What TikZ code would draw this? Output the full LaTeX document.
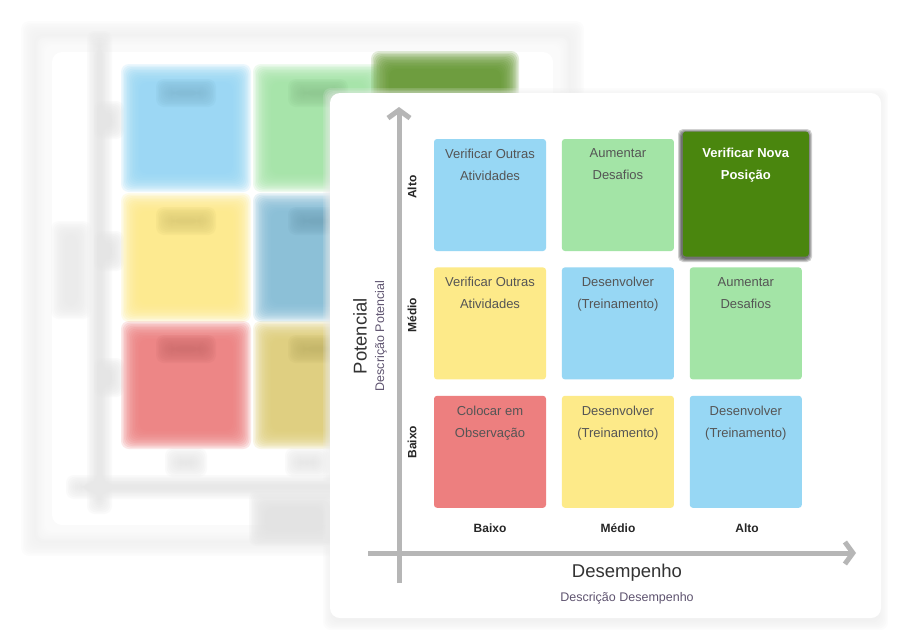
\documentclass[tikz,border=0pt]{standalone}
\usepackage{fontspec}
\setmainfont{Liberation Sans}
\usepackage{tikz}
\usetikzlibrary{positioning}
\usetikzlibrary{arrows.meta}

\definecolor{cellblue}{RGB}{151,215,244}
\definecolor{cellgreen}{RGB}{163,228,166}
\definecolor{celldark}{RGB}{74,134,14}
\definecolor{cellyellow}{RGB}{253,234,137}
\definecolor{cellred}{RGB}{237,127,127}
\definecolor{axisgray}{RGB}{182,182,182}
\definecolor{celltextgray}{RGB}{85,85,85}
\definecolor{desctext}{RGB}{95,84,112}

\tikzstyle{cell} = [minimum width=112pt, minimum height=112pt, inner sep=0pt, rounded corners=3pt]
\tikzstyle{celltext} = [align=center, inner sep=0pt, text=celltextgray, font=\fontsize{13}{22}\selectfont]
\tikzstyle{level} = [inner sep=0pt, text=black!85, font=\bfseries\fontsize{12}{14}\selectfont]
\tikzstyle{axis} = [line width=5pt, axisgray, -{Straight Barb[length=8pt,width=22pt]}]

% soft rectangle for the blurred copy behind the card
\newcommand{\fuzzyrect}[5]{%
  \foreach \r in {-9,-7.5,...,9}
    \fill[#5, opacity=0.18, rounded corners=8pt] (#1-\r,#2-\r) rectangle (#3+\r,#4+\r);
}

\begin{document}
\begin{tikzpicture}[x=1pt, y=-1pt]
  \useasboundingbox (0,0) rectangle (921,635);

  %Blurred copy
  \fuzzyrect{30}{30}{575}{547}{black!6}
  \fuzzyrect{45}{45}{560}{532}{white}
  \fill[white, rounded corners=10pt] (52,52) rectangle (553,525);
  \fuzzyrect{96}{40}{103}{505}{black!9}
  \fuzzyrect{75}{484}{560}{490}{black!9}
  \fuzzyrect{103}{110}{115}{130}{black!10}
  \fuzzyrect{103}{240}{115}{262}{black!10}
  \fuzzyrect{103}{367}{115}{388}{black!10}
  \fuzzyrect{60}{230}{82}{310}{black!8}
  \fuzzyrect{174}{457}{198}{468}{black!9}
  \fuzzyrect{294}{457}{320}{468}{black!9}
  \fuzzyrect{258}{500}{330}{537}{black!11}
  \fuzzyrect{130}{73}{242}{183}{cellblue}
  \fuzzyrect{262}{73}{374}{183}{cellgreen}
  \fuzzyrect{380}{60}{510}{190}{celldark!85!white}
  \fuzzyrect{130}{202}{242}{313}{cellyellow}
  \fuzzyrect{262}{202}{374}{313}{cellblue!88!black}
  \fuzzyrect{130}{330}{242}{440}{cellred}
  \fuzzyrect{262}{330}{374}{440}{cellyellow!88!black}
  \fuzzyrect{165}{88}{207}{98}{cellblue!88!black}
  \fuzzyrect{297}{88}{339}{98}{cellgreen!88!black}
  \fuzzyrect{165}{216}{207}{226}{cellyellow!88!black}
  \fuzzyrect{297}{216}{339}{226}{cellblue!78!black}
  \fuzzyrect{165}{344}{207}{354}{cellred!88!black}
  \fuzzyrect{297}{344}{339}{354}{cellyellow!78!black}

  %Card
  \fuzzyrect{332}{97}{879}{621}{black!7}
  \node[fill=white, rounded corners=10pt, minimum width=551pt, minimum height=525pt] (card) at (605.5,355.5) {};

  %Axes
  \coordinate (yBottom) at (399,583);
  \coordinate (yTop) at (399,107);
  \coordinate (xLeft) at (368,553);
  \coordinate (xRight) at (856,553);
  \draw[axis] (yBottom) -- (yTop);
  \draw[axis] (xLeft) -- (xRight);

  %Shadow of the highlighted cell
  \foreach \r in {1,2,3,4}
    \fill[black, opacity=0.18, rounded corners=5pt] (682-\r,133-\r) rectangle (808+\r,258+\r);

  %Cells
  \node[cell, fill=cellblue] (altoBaixo) at (490,195) {};
  \node[cell, fill=cellgreen, right=15.5pt of altoBaixo] (altoMedio) {};
  \node[cell, fill=cellyellow, below=16pt of altoBaixo] (medioBaixo) {};
  \node[cell, fill=cellblue, right=15.5pt of medioBaixo] (medioMedio) {};
  \node[cell, fill=cellgreen, right=15.5pt of medioMedio] (medioAlto) {};
  \node[cell, fill=celldark, minimum width=126pt, minimum height=125pt, above=10.5pt of medioAlto] (altoAlto) {};
  \node[cell, fill=cellred, below=16pt of medioBaixo] (baixoBaixo) {};
  \node[cell, fill=cellyellow, right=15.5pt of baixoBaixo] (baixoMedio) {};
  \node[cell, fill=cellblue, right=15.5pt of baixoMedio] (baixoAlto) {};

  \node[celltext, below=10pt of altoBaixo.north] (altoBaixoText) {Verificar Outras\\Atividades};
  \node[celltext, below=10pt of altoMedio.north] (altoMedioText) {Aumentar\\Desafios};
  \node[celltext, below=17pt of altoAlto.north, text=white, font=\bfseries\fontsize{13}{22}\selectfont] (altoAltoText) {Verificar Nova\\Posição};
  \node[celltext, below=10pt of medioBaixo.north] (medioBaixoText) {Verificar Outras\\Atividades};
  \node[celltext, below=10pt of medioMedio.north] (medioMedioText) {Desenvolver\\(Treinamento)};
  \node[celltext, below=10pt of medioAlto.north] (medioAltoText) {Aumentar\\Desafios};
  \node[celltext, below=10pt of baixoBaixo.north] (baixoBaixoText) {Colocar em\\Observação};
  \node[celltext, below=10pt of baixoMedio.north] (baixoMedioText) {Desenvolver\\(Treinamento)};
  \node[celltext, below=10pt of baixoAlto.north] (baixoAltoText) {Desenvolver\\(Treinamento)};

  %Levels
  \node[level, rotate=90] (potAlto) at (412,187) {Alto};
  \node[level, rotate=90] (potMedio) at (412,315) {Médio};
  \node[level, rotate=90] (potBaixo) at (412,442) {Baixo};
  \node[level] (desBaixo) at (490,528) {Baixo};
  \node[level] (desMedio) at (618,528) {Médio};
  \node[level] (desAlto) at (747,528) {Alto};

  %Axis titles
  \node[rotate=90, inner sep=0pt, text=black!80, font=\fontsize{18.5}{20}\selectfont] (potencial) at (360,336) {Potencial};
  \node[rotate=90, inner sep=0pt, text=desctext, font=\fontsize{12.5}{14}\selectfont] (potencialDesc) at (381,336) {Descrição Potencial};
  \node[inner sep=0pt, text=black!80, font=\fontsize{18.5}{20}\selectfont] (desempenho) at (627,573) {Desempenho};
  \node[inner sep=0pt, text=desctext, font=\fontsize{12.5}{14}\selectfont] (desempenhoDesc) at (627,598) {Descrição Desempenho};
\end{tikzpicture}
\end{document}
